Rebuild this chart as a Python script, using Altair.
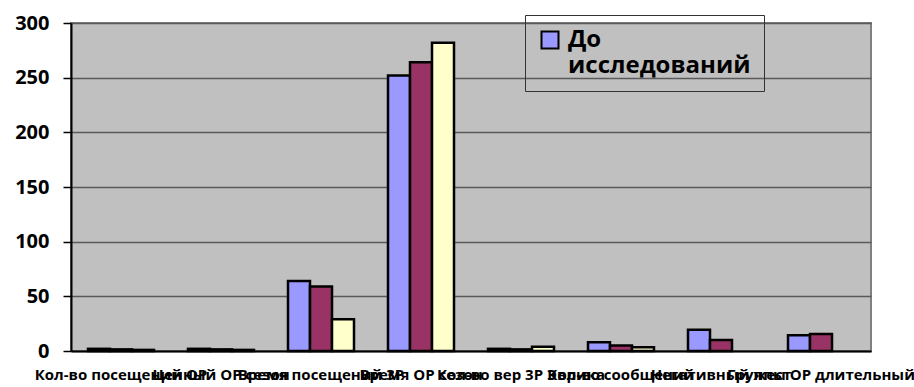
import altair as alt
import pandas as pd

categories = [
    "Кол-во посещений ОР",
    "Ценный ОР сезон",
    "Время посещений 3Р",
    "Время ОР сезон",
    "Кол-во вер 3Р Эврика",
    "Кол-во сообщений",
    "Негативный жест",
    "Группы ОР длительный",
]
series = ["До исследований", "Через 3 месяца", "Через 6 месяцев"]
values_before = [2, 2, 64, 252, 2, 8, 19.5, 14.5]
values_mid = [1.5, 1.5, 59, 264, 1.5, 5, 10, 15.5]
values_after = [1, 1, 29, 282, 4, 3.5, None, None]

rows = []
for i, c in enumerate(categories):
    for s, vals in zip(series, [values_before, values_mid, values_after]):
        if vals[i] is not None:
            rows.append({"cat": c, "series": s, "value": vals[i]})
df = pd.DataFrame(rows)

FONT = "Open Sans"

chart = alt.Chart(df).mark_bar(stroke="black", strokeWidth=2.5).encode(
    x=alt.X("cat:N", sort=categories, title=None,
            scale=alt.Scale(paddingInner=0.34, paddingOuter=0.17),
            axis=alt.Axis(labelAngle=0, labelFont=FONT, labelFontSize=15,
                          labelFontWeight="bold", labelColor="black",
                          labelLimit=0, labelOverlap=False, labelPadding=16,
                          ticks=False, domainColor="black", domainWidth=2,
                          labelFlush=False)),
    xOffset=alt.XOffset("series:N", sort=series, scale=alt.Scale(paddingInner=0, paddingOuter=0)),
    y=alt.Y("value:Q", title=None,
            scale=alt.Scale(domain=[0, 300], nice=False),
            axis=alt.Axis(values=[0, 50, 100, 150, 200, 250, 300],
                          labelFont=FONT, labelFontSize=20, labelFontWeight="bold",
                          labelColor="black", tickSize=8, tickColor="black",
                          tickWidth=1.5, labelPadding=14,
                          domainColor="black", domainWidth=2,
                          gridColor="#5a5a5a", gridWidth=1.5)),
    color=alt.Color("series:N", sort=series,
                    scale=alt.Scale(domain=series, range=["#9999FF", "#993366", "#FFFFCC"]),
                    legend=alt.Legend(values=["До исследований"], title=None,
                                      orient="none", legendX=454, legendY=-8,
                                      labelFont=FONT, labelFontSize=24,
                                      labelFontWeight="bold", labelColor="black",
                                      labelExpr="split(datum.label, ' ')",
                                      labelLimit=0, labelOffset=6,
                                      symbolType="square", symbolSize=289,
                                      symbolStrokeColor="black", symbolStrokeWidth=2,
                                      symbolOpacity=1,
                                      strokeColor="#333333", padding=13)),
).properties(
    width=800, height=328,
    background="white",
    autosize=alt.AutoSizeParams(type="none"),
    padding={"left": 71, "top": 23, "right": 43, "bottom": 36},
).configure_view(
    fill="#C0C0C0", stroke="#808080", strokeWidth=2
)

chart.save("out.html", embed_options={"renderer": "svg", "actions": False})
